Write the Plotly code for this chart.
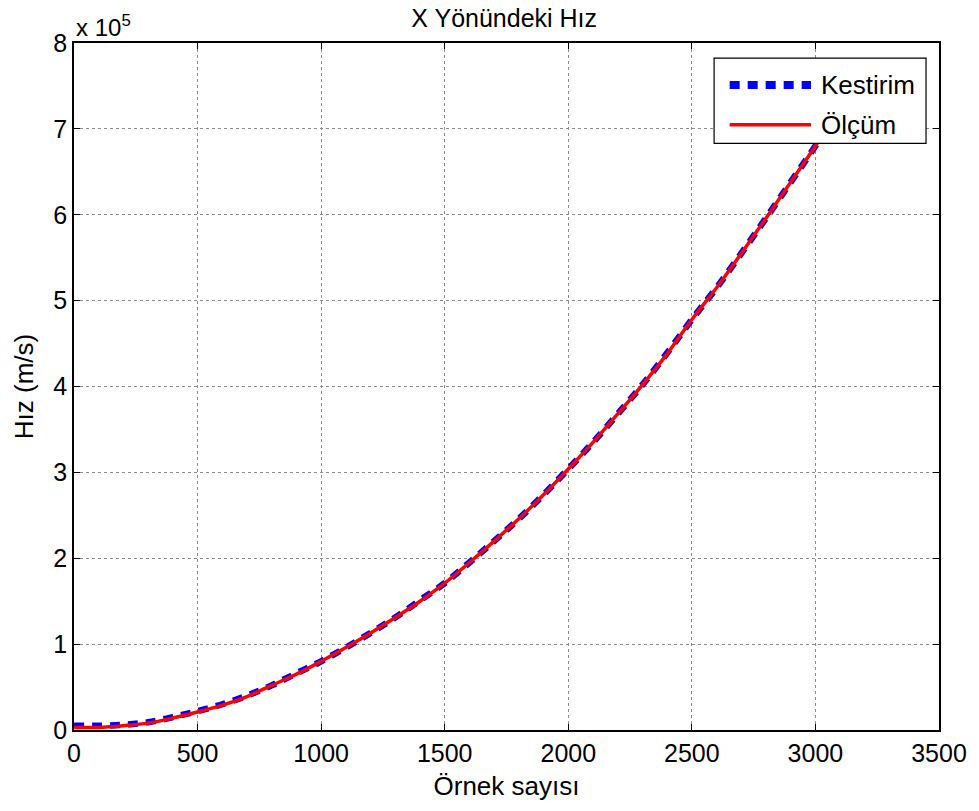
import plotly.graph_objects as go

# Sample index (Örnek sayısı)
samples = [0, 100, 200, 300, 400, 500, 600, 700, 800, 900, 1000, 1100, 1200, 1300,
           1400, 1500, 1600, 1700, 1800, 1900, 2000, 2100, 2200, 2300, 2400, 2500,
           2600, 2700, 2800, 2900, 3000, 3100]
# Values in units of 1e5 m/s
olcum = [0.03, 0.03, 0.05, 0.08, 0.14, 0.21, 0.29, 0.39, 0.52, 0.65, 0.80, 0.96,
         1.13, 1.31, 1.50, 1.71, 1.95, 2.20, 2.46, 2.74, 3.04, 3.35, 3.68, 4.02,
         4.38, 4.78, 5.15, 5.55, 5.96, 6.38, 6.80, 7.25]
kestirim = [0.05, 0.05, 0.06, 0.09, 0.15, 0.22, 0.30, 0.40, 0.52, 0.66, 0.80, 0.96,
            1.13, 1.31, 1.51, 1.71, 1.95, 2.20, 2.46, 2.74, 3.04, 3.35, 3.68, 4.02,
            4.39, 4.78, 5.15, 5.55, 5.96, 6.38, 6.80, 7.25]
series_names = ["Kestirim", "Ölçüm"]

x_ticks = [0, 500, 1000, 1500, 2000, 2500, 3000, 3500]
y_ticks = [0, 1, 2, 3, 4, 5, 6, 7, 8]

FONT = "Liberation Sans, Arial, sans-serif"
BLUE = "#0000ff"
RED = "#ff0000"
BLUE_DASH = "10px,8px"

fig = go.Figure()
fig.add_trace(go.Scatter(x=samples, y=kestirim, mode="lines", name=series_names[0],
                         line=dict(color=BLUE, width=6.5, dash=BLUE_DASH, shape="spline")))
fig.add_trace(go.Scatter(x=samples, y=olcum, mode="lines", name=series_names[1],
                         line=dict(color=RED, width=3.5, shape="spline")))

axis_common = dict(showline=True, linecolor="black", linewidth=1.5, mirror="allticks",
                   ticks="inside", ticklen=6, tickcolor="black", tickwidth=1,
                   showgrid=True, gridcolor="#8c8c8c", griddash="dot", gridwidth=1,
                   zeroline=False, tickfont=dict(size=25, color="black", family=FONT))

fig.update_layout(
    width=979, height=811,
    paper_bgcolor="white", plot_bgcolor="white",
    margin=dict(l=74, r=35, t=43, b=81),
    font=dict(family=FONT, color="black"),
    title=dict(text="X Yönündeki Hız", x=0.515, xanchor="center", y=0.978, yanchor="middle",
               font=dict(size=25, color="black", family=FONT)),
    xaxis=dict(range=[0, 3500], tickvals=x_ticks,
               title=dict(text="Örnek sayısı", font=dict(size=26, family=FONT), standoff=11),
               **axis_common),
    yaxis=dict(range=[0, 8], tickvals=y_ticks,
               title=dict(text="Hız (m/s)", font=dict(size=26, family=FONT), standoff=12),
               **axis_common),
    showlegend=False,
)

# Legend box drawn in paper coordinates (MATLAB-style legend)
lx0, lx1, ly0, ly1 = 0.740, 0.985, 0.854, 0.978
fig.add_shape(type="rect", xref="paper", yref="paper", x0=lx0, x1=lx1, y0=ly0, y1=ly1,
              fillcolor="white", line=dict(color="black", width=1.2), layer="above")
sym_x0, sym_x1, txt_x = 0.758, 0.852, 0.861
rows = [(0.939, BLUE, 8, BLUE_DASH), (0.881, RED, 3.5, "solid")]
for name, (yy, col, w, dsh) in zip(series_names, rows):
    fig.add_shape(type="line", xref="paper", yref="paper", x0=sym_x0, x1=sym_x1, y0=yy, y1=yy,
                  line=dict(color=col, width=w, dash=dsh), layer="above")
    fig.add_annotation(text=name, xref="paper", yref="paper", x=txt_x, y=yy,
                       xanchor="left", yanchor="middle", showarrow=False,
                       font=dict(size=26, color="black", family=FONT))

fig.add_annotation(text="x 10<sup>5</sup>", xref="paper", yref="paper", x=0.0, y=1.0,
                   xanchor="left", yanchor="bottom", showarrow=False,
                   font=dict(size=24, color="black", family=FONT), yshift=0)

fig.write_html("out.html")
